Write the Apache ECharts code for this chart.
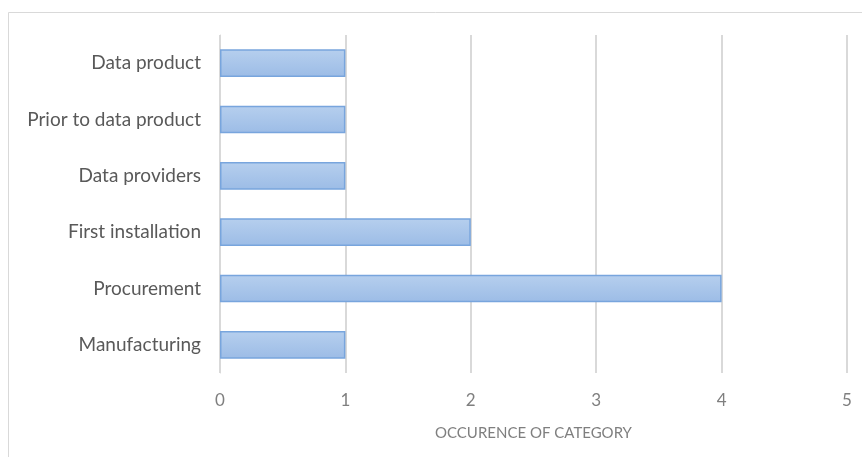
<!DOCTYPE html>
<html>
<head>
<meta charset="utf-8">
<script src="https://cdn.jsdelivr.net/npm/echarts@6/dist/echarts.min.js"></script>
<style>
  html, body { margin: 0; padding: 0; background: #fff; }
  #main { width: 862px; height: 457px; }
</style>
</head>
<body>
<div id="main"></div>
<script>
(function () {
  var myChart = echarts.init(document.getElementById('main'));

  // categories listed bottom to top, as the y axis draws them
  var categories = ['Manufacturing', 'Procurement', 'First installation',
    'Data providers', 'Prior to data product', 'Data product'];
  var occurrences = [1, 4, 2, 1, 1, 1];
  var xTicks = [0, 1, 2, 3, 4, 5];

  var labelFont = 'Lato, "Open Sans", sans-serif';

  var option = {
    animation: false,
    backgroundColor: '#fff',
    graphic: [{
      type: 'rect',
      shape: { x: 8.5, y: 12.5, width: 900, height: 500 },
      style: { fill: 'none', stroke: '#d9d9d9', lineWidth: 1 },
      silent: true
    }],
    grid: { left: 220, right: 15, top: 35, bottom: 84 },
    xAxis: {
      type: 'value',
      min: xTicks[0],
      max: xTicks[xTicks.length - 1],
      interval: 1,
      name: 'OCCURENCE OF CATEGORY',
      nameLocation: 'middle',
      nameGap: 53,
      nameTextStyle: { color: '#7f7f7f', fontSize: 15, fontFamily: labelFont },
      axisLine: { show: false },
      axisTick: { show: false },
      axisLabel: { color: '#7f7f7f', fontSize: 17, fontFamily: labelFont, margin: 19 },
      splitLine: { lineStyle: { color: '#d9d9d9', width: 2 } }
    },
    yAxis: {
      type: 'category',
      data: categories,
      axisLine: { lineStyle: { color: '#d9d9d9', width: 1 } },
      axisTick: { show: false },
      axisLabel: { color: '#595959', fontSize: 19, fontFamily: labelFont, margin: 19 }
    },
    series: [{
      type: 'bar',
      data: occurrences,
      barWidth: '49%',
      itemStyle: {
        color: new echarts.graphic.LinearGradient(0, 0, 0, 1, [
          { offset: 0, color: '#b6cfee' },
          { offset: 1, color: '#9cbce6' }
        ]),
        borderColor: '#78a5dd',
        borderWidth: 1.5
      }
    }]
  };

  myChart.setOption(option);
})();
</script>
</body>
</html>
